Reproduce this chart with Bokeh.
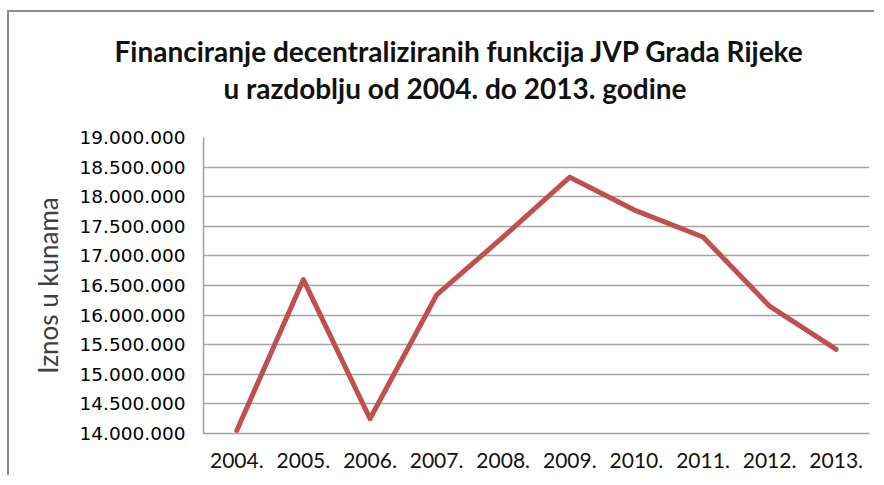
from bokeh.plotting import figure
from bokeh.models import FactorRange, Range1d, FixedTicker, Title, ColumnDataSource
from bokeh.embed import file_html
from bokeh.resources import INLINE

# ---- data ----
years = ["2004.", "2005.", "2006.", "2007.", "2008.",
         "2009.", "2010.", "2011.", "2012.", "2013."]
amounts = [14050000, 16600000, 14250000, 16340000, 17320000,
           18330000, 17760000, 17320000, 16150000, 15420000]
tick_values = [14000000, 14500000, 15000000, 15500000, 16000000, 16500000,
               17000000, 17500000, 18000000, 18500000, 19000000]
tick_labels = ["14.000.000", "14.500.000", "15.000.000", "15.500.000",
               "16.000.000", "16.500.000", "17.000.000", "17.500.000",
               "18.000.000", "18.500.000", "19.000.000"]
title_line1 = "Financiranje decentraliziranih funkcija JVP Grada Rijeke"
title_line2 = "u razdoblju  od 2004. do 2013. godine"
y_title = "Iznos u kunama"

src = ColumnDataSource(dict(year=years, amount=amounts))

p = figure(width=867, height=465, x_range=FactorRange(*years),
           y_range=Range1d(14000000, 19000000),
           output_backend="svg", toolbar_location=None,
           min_border_left=194, min_border_right=7,
           min_border_top=125, min_border_bottom=44)
p.styles = {"border-left": "2px solid #8c8c8c", "border-top": "2px solid #8c8c8c",
            "margin-left": "7px", "margin-top": "10px"}
p.outline_line_color = None
p.background_fill_color = "white"
p.border_fill_color = "white"
p.x_range.range_padding = 0
p.x_range.factor_padding = 0

p.line("year", "amount", source=src, line_color="#c0504d", line_width=5,
       line_join="round", line_cap="round")

# axes
p.yaxis.ticker = FixedTicker(ticks=tick_values)
p.yaxis.major_label_overrides = {v: l for v, l in zip(tick_values, tick_labels)}
p.yaxis.major_label_text_font = "DejaVu Sans"
p.yaxis.major_label_text_font_size = "18.5px"
p.yaxis.major_label_text_color = "#000000"
p.yaxis.major_label_standoff = 12
p.yaxis.major_tick_line_color = None
p.yaxis.minor_tick_line_color = None
p.yaxis.axis_line_color = "#a0a0a0"
p.yaxis.axis_line_width = 1.5
p.yaxis.axis_label = y_title
p.yaxis.axis_label_text_font = "Lato"
p.yaxis.axis_label_text_font_style = "normal"
p.yaxis.axis_label_text_font_size = "26px"
p.yaxis.axis_label_text_color = "#404040"
p.yaxis.axis_label_standoff = 13

p.xaxis.major_label_text_font = "Lato"
p.xaxis.major_label_text_font_size = "21px"
p.xaxis.major_label_text_color = "#111111"
p.xaxis.major_label_standoff = 13
p.xaxis.major_tick_line_color = None
p.xaxis.minor_tick_line_color = None
p.xaxis.axis_line_color = "#a0a0a0"
p.xaxis.axis_line_width = 1.5

p.xgrid.grid_line_color = None
p.ygrid.grid_line_color = "#a3a3a3"
p.ygrid.grid_line_width = 1.5
p.ygrid.ticker = FixedTicker(ticks=tick_values)

# titles: the figure's own title is outermost, the added one sits next to the frame
p.title.text = title_line1
p.title.align = "left"
p.title.offset = -89
p.title.standoff = -65
p.title.text_font = "Lato"
p.title.text_font_style = "bold"
p.title.text_font_size = "28px"
p.title.text_color = "#111111"
p.add_layout(Title(text=title_line2, align="left", offset=20, standoff=66,
                   text_font="Lato", text_font_style="bold",
                   text_font_size="28px", text_color="#111111"), "above")

open("out.html", "w").write(file_html(p, INLINE))
